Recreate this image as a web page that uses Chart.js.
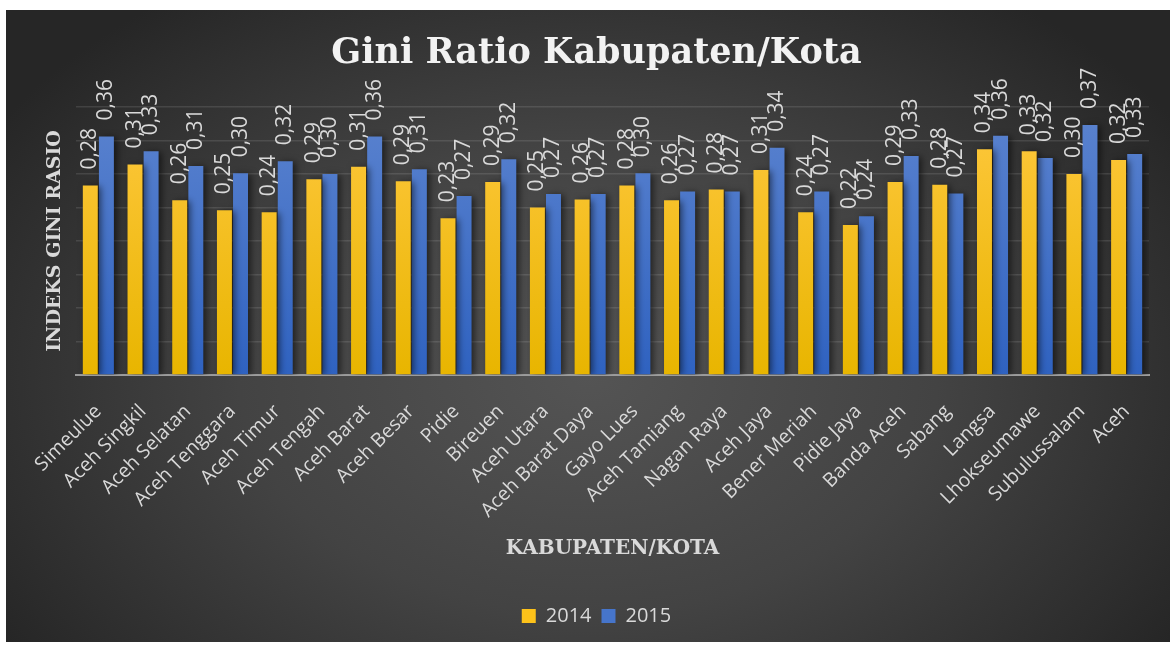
<!DOCTYPE html>
<html>
<head>
<meta charset="utf-8">
<title>Gini Ratio Kabupaten/Kota</title>
<script src="https://cdn.jsdelivr.net/npm/chart.js@4.4.1/dist/chart.umd.min.js"></script>
<style>
  html, body { margin: 0; padding: 0; background: #ffffff; }
  #wrap {
    position: absolute;
    left: 6px;
    top: 10px;
    width: 1164px;
    height: 632px;
    background: radial-gradient(ellipse 60% 75% at 50% 58%, #545454 0%, #434343 50%, #2c2c2c 90%, #262626 100%);
  }
</style>
</head>
<body>
<div id="wrap"><canvas id="giniChart" width="1164" height="632"></canvas></div>
<script>
// categories (kabupaten / kota)
const kabupaten = [
  "Simeulue", "Aceh Singkil", "Aceh Selatan", "Aceh Tenggara", "Aceh Timur",
  "Aceh Tengah", "Aceh Barat", "Aceh Besar", "Pidie", "Bireuen",
  "Aceh Utara", "Aceh Barat Daya", "Gayo Lues", "Aceh Tamiang", "Nagan Raya",
  "Aceh Jaya", "Bener Meriah", "Pidie Jaya", "Banda Aceh", "Sabang",
  "Langsa", "Lhokseumawe", "Subulussalam", "Aceh",
];

// gini ratio per year
const gini2014 = [
  0.283, 0.314, 0.261, 0.246, 0.243, 0.292, 0.311, 0.289, 0.234, 0.288,
  0.250, 0.262, 0.283, 0.261, 0.277, 0.306, 0.243, 0.224, 0.288, 0.284,
  0.337, 0.334, 0.300, 0.321,
];
const gini2015 = [
  0.356, 0.334, 0.312, 0.301, 0.319, 0.300, 0.356, 0.307, 0.267, 0.322,
  0.270, 0.270, 0.301, 0.274, 0.274, 0.339, 0.274, 0.237, 0.327, 0.271,
  0.357, 0.324, 0.373, 0.330,
];

const years = ["2014", "2015"];

// y axis: no tick labels, only gridlines every 0.05
const yMin = 0;
const yMax = 0.4;
const yStep = 0.05;

const LABEL_COLOR = "#d9d9d9";

/** vertical gradient for the bars */
function barGradient(context, top, bottom) {
  const area = context.chart.chartArea;
  if (!area) return bottom;
  const g = context.chart.ctx.createLinearGradient(0, area.top, 0, area.bottom);
  g.addColorStop(0, top);
  g.addColorStop(1, bottom);
  return g;
}

/** shadow behind bars + rotated value labels above them */
const barLabelsPlugin = {
  id: "barLabels",
  beforeDatasetsDraw(chart) {
    const ctx = chart.ctx;
    ctx.save();
    ctx.shadowColor = "rgba(0,0,0,0.55)";
    ctx.shadowBlur = 7;
    ctx.shadowOffsetX = 3;
    ctx.shadowOffsetY = 1;
  },
  afterDatasetsDraw(chart) {
    const ctx = chart.ctx;
    ctx.restore();
    ctx.save();
    ctx.fillStyle = LABEL_COLOR;
    ctx.font = "21px 'Open Sans'";
    ctx.textAlign = "left";
    ctx.textBaseline = "middle";
    chart.data.datasets.forEach((ds, i) => {
      const meta = chart.getDatasetMeta(i);
      meta.data.forEach((bar, j) => {
        const txt = ds.data[j].toFixed(2).replace(".", ",");
        ctx.save();
        ctx.translate(bar.x, bar.y - 16);
        ctx.rotate(-Math.PI / 2);
        ctx.fillText(txt, 0, 0);
        ctx.restore();
      });
    });
    ctx.restore();
  },
};

const ctx = document.getElementById("giniChart").getContext("2d");

new Chart(ctx, {
  type: "bar",
  data: {
    labels: kabupaten,
    datasets: [
      {
        label: years[0],
        data: gini2014,
        backgroundColor: (c) => barGradient(c, "#ffc83f", "#e8b500"),
        legendColor: "#fdc21a",
        borderWidth: 0,
      },
      {
        label: years[1],
        data: gini2015,
        backgroundColor: (c) => barGradient(c, "#5b83cf", "#2f62c0"),
        legendColor: "#4675cb",
        borderWidth: 0,
      },
    ],
  },
  options: {
    responsive: false,
    animation: false,
    devicePixelRatio: 1,
    categoryPercentage: 0.72,
    barPercentage: 0.93,
    layout: {
      padding: { left: 38, right: 21, top: 0, bottom: 6 },
    },
    scales: {
      x: {
        grid: { display: false },
        border: { display: true, color: "#9c9c9c", width: 2 },
        ticks: {
          color: LABEL_COLOR,
          font: { family: "'Open Sans'", size: 19.5 },
          minRotation: 45,
          maxRotation: 45,
          autoSkip: false,
          padding: 17,
        },
        title: {
          display: true,
          text: "KABUPATEN/KOTA",
          color: LABEL_COLOR,
          font: { family: "'DejaVu Serif'", size: 20, weight: "bold" },
          padding: { top: 0, bottom: 35 },
        },
        afterFit: (scale) => {
          scale.height = 221;
        },
      },
      y: {
        min: yMin,
        max: yMax,
        ticks: { display: false, stepSize: yStep },
        grid: {
          color: "rgba(255,255,255,0.11)",
          lineWidth: 1.5,
          drawTicks: false,
        },
        border: { display: false },
        title: {
          display: true,
          text: "INDEKS GINI RASIO",
          color: LABEL_COLOR,
          font: { family: "'DejaVu Serif'", size: 19, weight: "bold" },
          padding: { top: 0, bottom: 0 },
        },
        afterFit: (scale) => {
          scale.width = 32;
        },
      },
    },
    plugins: {
      title: {
        display: true,
        text: "Gini Ratio Kabupaten/Kota",
        color: "#f2f2f2",
        font: { family: "'DejaVu Serif'", size: 35, weight: "bold" },
        padding: { top: 23, bottom: 32 },
      },
      legend: {
        position: "bottom",
        labels: {
          color: LABEL_COLOR,
          font: { family: "'Open Sans'", size: 20 },
          boxWidth: 14,
          boxHeight: 14,
          padding: 10,
          generateLabels: (chart) =>
            Chart.defaults.plugins.legend.labels
              .generateLabels(chart)
              .map((item) => {
                const ds = chart.data.datasets[item.datasetIndex];
                item.fillStyle = ds.legendColor;
                item.strokeStyle = ds.legendColor;
                item.lineWidth = 0;
                return item;
              }),
        },
      },
      tooltip: { enabled: false },
    },
  },
  plugins: [barLabelsPlugin],
});
</script>
</body>
</html>
